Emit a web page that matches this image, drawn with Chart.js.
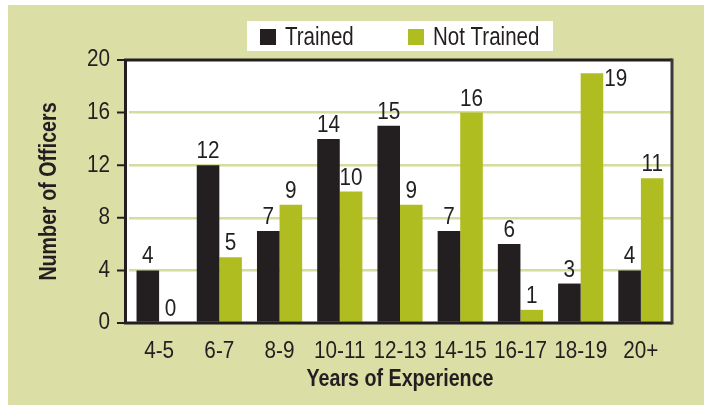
<!DOCTYPE html>
<html><head><meta charset="utf-8">
<script src="https://cdn.jsdelivr.net/npm/chart.js@4.4.1/dist/chart.umd.min.js"></script>
<style>html,body{margin:0;padding:0;background:#fff;}canvas{display:block}</style>
</head><body>
<canvas id="c" width="707" height="408"></canvas>
<script>
const categories = ['4-5','6-7','8-9','10-11','12-13','14-15','16-17','18-19','20+'];
const seriesNames = ['Trained','Not Trained'];
const trained = [4,12,7,14,15,7,6,3,4];
const notTrained = [0,5,9,10,9,16,1,19,11];
const yTicks = [0,4,8,12,16,20];
const xTitle = 'Years of Experience';
const yTitle = 'Number of Officers';

const FONT = '"Liberation Sans",Arial,sans-serif';
const INK = '#231f20';
const GREEN = '#afbd21';
const BG = '#dbdfa6';
const GRID = '#d4dc9e';

// condensed look: squeeze text horizontally (digits less than words)
const canvas = document.getElementById('c');
const cctx = canvas.getContext('2d');
const origFill = cctx.fillText.bind(cctx);
cctx.fillText = function(t, x, y, mw){
  const sx = /^[0-9+\-]+$/.test(String(t)) ? 0.9 : 0.82;
  this.save();
  this.translate(x, y);
  this.scale(sx, 1);
  if (mw === undefined) origFill(t, 0, 0); else origFill(t, 0, 0, mw / sx);
  this.restore();
};

const bgPlugin = {
  id:'bg',
  beforeDraw(chart){
    const {ctx, chartArea:a} = chart;
    ctx.save();
    ctx.fillStyle='#fff'; ctx.fillRect(0,0,chart.width,chart.height);
    ctx.fillStyle=BG; ctx.fillRect(8,5,696,400);
    ctx.fillStyle='#fff'; ctx.fillRect(a.left-3.5,a.top,a.right-a.left+4.5,a.bottom-a.top);
    ctx.restore();
  },
  afterDatasetsDraw(chart){
    const {ctx, chartArea:a, scales} = chart;
    ctx.save();
    ctx.strokeStyle=INK; ctx.lineWidth=3;
    ctx.beginPath();
    ctx.moveTo(a.left-3.5, a.top); ctx.lineTo(a.right+1, a.top);
    ctx.moveTo(a.left-3.5, a.top-1.5); ctx.lineTo(a.left-3.5, a.bottom+1.5);
    ctx.moveTo(a.left-3.5, a.bottom); ctx.lineTo(a.right+1, a.bottom);
    ctx.stroke();
    ctx.strokeStyle='#3a3838';
    ctx.beginPath(); ctx.moveTo(a.right+1, a.top-1.5); ctx.lineTo(a.right+1, a.bottom+1.5); ctx.stroke();
    // y tick marks
    ctx.strokeStyle=INK; ctx.lineWidth=2;
    ctx.beginPath();
    yTicks.forEach(v=>{
      const y = scales.y.getPixelForValue(v);
      ctx.moveTo(a.left-12, y); ctx.lineTo(a.left-3.5, y);
    });
    ctx.stroke();
    // value labels
    ctx.fillStyle=INK;
    ctx.font = '23px '+FONT;
    ctx.textBaseline='alphabetic';
    chart.data.datasets.forEach((ds,di)=>{
      const meta = chart.getDatasetMeta(di);
      meta.data.forEach((bar,i)=>{
        const v = ds.data[i];
        const txt = String(v);
        if (bar.y - 7 - 17 < a.top) {
          ctx.textAlign='left';
          ctx.fillText(txt, bar.x + bar.width/2 + 1, bar.y + 13);
        } else {
          ctx.textAlign='center';
          ctx.fillText(txt, bar.x, bar.y - 7);
        }
      });
    });
    ctx.restore();
  },
  afterDraw(chart){
    const {ctx, chartArea:a} = chart;
    const cx = (a.left + a.right)/2;
    const left = cx - 153;
    ctx.save();
    ctx.fillStyle='#fff'; ctx.fillRect(left, 21, 306, 30);
    const colors=[INK,GREEN];
    const offs=[13,161];
    ctx.font='25px '+FONT; ctx.textBaseline='alphabetic'; ctx.textAlign='left';
    seriesNames.forEach((n,i)=>{
      ctx.fillStyle=colors[i];
      ctx.fillRect(left+offs[i], 29, 16, 16);
      ctx.fillStyle=INK;
      ctx.fillText(n, left+offs[i]+25, 45);
    });
    ctx.restore();
  }
};

new Chart(canvas, {
  type:'bar',
  data:{
    labels: categories,
    datasets:[
      {label:seriesNames[0], data:trained, backgroundColor:INK, borderWidth:0},
      {label:seriesNames[1], data:notTrained, backgroundColor:GREEN, borderWidth:0}
    ]
  },
  options:{
    responsive:false, animation:false, devicePixelRatio:1,
    categoryPercentage:0.75, barPercentage:1,
    layout:{padding:{left:0,top:60,right:36,bottom:0}},
    plugins:{legend:{display:false}, tooltip:{enabled:false}},
    scales:{
      x:{
        offset:true,
        grid:{display:false, drawTicks:false},
        border:{display:false},
        ticks:{padding:15, color:INK, font:{family:FONT,size:23}, maxRotation:0, autoSkip:false},
        title:{display:true, text:xTitle, color:INK, font:{family:FONT,size:24,weight:'bold'}, padding:{top:0,bottom:14}},
        afterFit(s){ s.height = 85; }
      },
      y:{
        min:0, max:20,
        afterBuildTicks(s){ s.ticks = yTicks.map(v=>({value:v})); },
        grid:{color:(c)=> (c.tick && (c.tick.value===0||c.tick.value===20)) ? 'rgba(0,0,0,0)' : GRID, lineWidth:2.5, drawTicks:false},
        border:{display:false},
        ticks:{padding:19, color:INK, font:{family:FONT,size:23}},
        title:{display:true, text:yTitle, color:INK, font:{family:FONT,size:24,weight:'bold'}, padding:{top:35,bottom:0}},
        afterFit(s){ s.width = 129; }
      }
    }
  },
  plugins:[bgPlugin]
});
</script>
</body></html>
